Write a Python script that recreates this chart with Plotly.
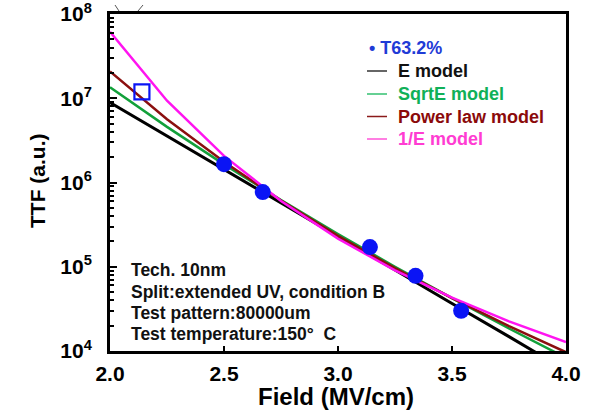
import plotly.graph_objects as go

# Measured points (T63.2%)
field_pts = [2.50, 2.67, 3.14, 3.34, 3.54]
ttf_pts = [1.65e6, 7.7e5, 1.71e5, 7.8e4, 3.0e4]

# Open square marker
sq_field = [2.14]
sq_ttf = [1.19e7]

# Model curves
model_field = [2.0, 2.25, 2.5, 2.75, 3.0, 3.25, 3.5, 3.75, 4.0]
e_model = [8.9e6, 3.55e6, 1.43e6, 5.75e5, 2.29e5, 9.1e4, 3.67e4, 1.48e4, 5.9e3]
sqrte_model = [1.35e7, 4.57e6, 1.64e6, 6.2e5, 2.44e5, 1.0e5, 4.25e4, 1.85e4, 8.3e3]
power_model = [2.08e7, 5.64e6, 1.76e6, 6.12e5, 2.33e5, 9.62e4, 4.24e4, 1.97e4, 9.67e3]
inv_e_model = [6.15e7, 9.35e6, 2.07e6, 6.03e5, 2.16e5, 9.04e4, 4.30e4, 2.25e4, 1.28e4]

x_ticks = [2.0, 2.5, 3.0, 3.5, 4.0]
x_ticklabels = ["2.0", "2.5", "3.0", "3.5", "4.0"]
y_ticks = [1e4, 1e5, 1e6, 1e7, 1e8]
y_ticklabels = ["10<sup>4</sup>", "10<sup>5</sup>", "10<sup>6</sup>", "10<sup>7</sup>", "10<sup>8</sup>"]

legend_labels = ["T63.2%", "E model", "SqrtE model", "Power law model", "1/E model"]
info_lines = ["Tech. 10nm", "Split:extended UV, condition B",
              "Test pattern:80000um", "Test temperature:150\u00b0\u00a0\u00a0C"]

BLUE = "#0a14f5"
BLACK = "#000000"
GREEN = "#12a03a"
BROWN = "#8b0f0f"
MAGENTA = "#ff14f0"
LEG_TEXT = ["#1f3bd6", "#111111", "#10b058", "#8b0a0a", "#ff3cd2"]
LEG_LINE = [None, "#333333", "#33c070", "#8b1a1a", "#ff55d8"]

FONT = "Liberation Sans, Arial, sans-serif"

# plot box in pixels: x 110..566, y 14..351
L, R, T, B = 110, 566, 14, 351
def px(x):
    return (x - L) / (R - L)
def py(y):
    return (B - y) / (B - T)

fig = go.Figure()

fig.add_trace(go.Scatter(x=model_field, y=e_model, mode="lines",
                         line=dict(color=BLACK, width=3), name="E model"))
fig.add_trace(go.Scatter(x=model_field, y=sqrte_model, mode="lines",
                         line=dict(color=GREEN, width=2.5), name="SqrtE model"))
fig.add_trace(go.Scatter(x=model_field, y=power_model, mode="lines",
                         line=dict(color=BROWN, width=2.5), name="Power law model"))
fig.add_trace(go.Scatter(x=model_field, y=inv_e_model, mode="lines",
                         line=dict(color=MAGENTA, width=2.5), name="1/E model"))
fig.add_trace(go.Scatter(x=field_pts, y=ttf_pts, mode="markers",
                         marker=dict(color=BLUE, size=16, line=dict(width=0)),
                         name="T63.2%"))
fig.add_trace(go.Scatter(x=sq_field, y=sq_ttf, mode="markers",
                         marker=dict(symbol="square-open", color=BLUE, size=15,
                                     line=dict(width=2.2, color=BLUE)),
                         name="square"))

# manual legend
leg_y = [48, 71, 94, 116.5, 139]
for i, lab in enumerate(legend_labels):
    if i == 0:
        fig.add_annotation(x=px(367), y=py(leg_y[i]), xref="paper", yref="paper",
                           xanchor="left", yanchor="middle",
                           text=f"<b>\u2022 {lab}</b>", showarrow=False,
                           font=dict(family=FONT, size=18, color=LEG_TEXT[i]))
    else:
        fig.add_shape(type="line", xref="paper", yref="paper",
                      x0=px(367), x1=px(387), y0=py(leg_y[i]), y1=py(leg_y[i]),
                      line=dict(color=LEG_LINE[i], width=1.5))
        fig.add_annotation(x=px(396), y=py(leg_y[i]), xref="paper", yref="paper",
                           xanchor="left", yanchor="middle",
                           text=f"<b>{lab}</b>", showarrow=False,
                           font=dict(family=FONT, size=18, color=LEG_TEXT[i]))

# info text block
info_y = [270, 291.5, 312.5, 333.5]
for i, t in enumerate(info_lines):
    fig.add_annotation(x=px(129), y=py(info_y[i]), xref="paper", yref="paper",
                       xanchor="left", yanchor="middle", text=f"<b>{t}</b>",
                       showarrow=False, font=dict(family=FONT, size=17.5, color="#111111"))

# axis titles
fig.add_annotation(x=px(37), y=py(181), xref="paper", yref="paper", textangle=-90,
                   xanchor="center", yanchor="middle", text="<b>TTF (a.u.)</b>",
                   showarrow=False, font=dict(family=FONT, size=21, color="black"))
fig.add_annotation(x=px(336), y=py(396), xref="paper", yref="paper",
                   xanchor="center", yanchor="middle", text="<b>Field (MV/cm)</b>",
                   showarrow=False, font=dict(family=FONT, size=24, color="black"))

# small marks above plot
fig.add_shape(type="line", xref="paper", yref="paper", x0=px(115), x1=px(119), y0=py(5), y1=py(11),
              line=dict(color="#555555", width=1))
fig.add_shape(type="line", xref="paper", yref="paper", x0=px(138), x1=px(143), y0=py(11), y1=py(5),
              line=dict(color="#555555", width=1))

fig.update_layout(
    width=596, height=411,
    margin=dict(l=L, r=596 - R, t=T, b=411 - B),
    paper_bgcolor="white", plot_bgcolor="white",
    font=dict(family=FONT, color="black"),
    showlegend=False,
)

fig.update_xaxes(
    range=[2.0, 4.0], tickvals=x_ticks, ticktext=[f"<b>{t}</b>" for t in x_ticklabels],
    ticks="inside", ticklen=5, tickwidth=2, tickcolor="black",
    showline=True, linewidth=3, linecolor="black", mirror=True,
    showgrid=False, zeroline=False, automargin=False,
    tickfont=dict(family=FONT, size=21, color="black"),
    ticklabelstandoff=2, ticklabeloverflow="allow",
)
fig.update_yaxes(
    type="log", range=[4, 8], tickvals=y_ticks, ticktext=[f"<b>{t}</b>" for t in y_ticklabels],
    ticks="inside", ticklen=7, tickwidth=2, tickcolor="black",
    minor=dict(ticks="inside", ticklen=4, tickwidth=1.5, tickcolor="black", dtick="D1", showgrid=False),
    showline=True, linewidth=3, linecolor="black", mirror=True,
    showgrid=False, zeroline=False, automargin=False,
    tickfont=dict(family=FONT, size=21, color="black"),
    ticklabelstandoff=11, ticklabeloverflow="allow",
)

fig.write_html("out.html", config={"displayModeBar": False})

# remove the default page margin so the figure sits at the window's top-left
with open("out.html", "r", encoding="utf-8") as f:
    html = f.read()
html = html.replace("<head>", "<head><style>html,body{margin:0;padding:0;overflow:hidden;}</style>", 1)
with open("out.html", "w", encoding="utf-8") as f:
    f.write(html)
